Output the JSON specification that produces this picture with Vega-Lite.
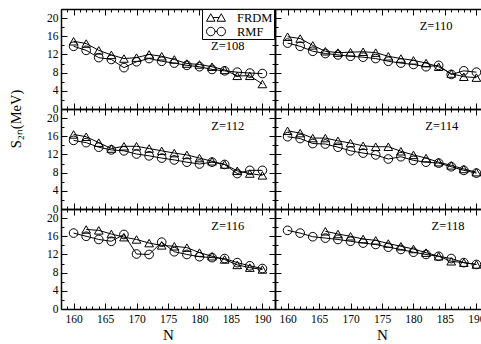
{
"$schema": "https://vega.github.io/schema/vega-lite/v6.json",
"padding": {"left": 8, "top": 3, "right": 0, "bottom": 0},
"background": "white",
"datasets": {
"d": [
{"Z":108,"m":"FRDM","N":160,"S":14.9},{"Z":108,"m":"FRDM","N":162,"S":14.4},{"Z":108,"m":"FRDM","N":164,"S":12.9},{"Z":108,"m":"FRDM","N":166,"S":11.9},{"Z":108,"m":"FRDM","N":168,"S":11.1},{"Z":108,"m":"FRDM","N":170,"S":11.3},{"Z":108,"m":"FRDM","N":172,"S":12.0},{"Z":108,"m":"FRDM","N":174,"S":11.6},{"Z":108,"m":"FRDM","N":176,"S":10.9},{"Z":108,"m":"FRDM","N":178,"S":10.0},{"Z":108,"m":"FRDM","N":180,"S":9.8},{"Z":108,"m":"FRDM","N":182,"S":9.3},{"Z":108,"m":"FRDM","N":184,"S":8.6},{"Z":108,"m":"FRDM","N":186,"S":7.3},{"Z":108,"m":"FRDM","N":188,"S":7.3},{"Z":108,"m":"FRDM","N":190,"S":5.5},
{"Z":108,"m":"RMF","N":160,"S":13.8},{"Z":108,"m":"RMF","N":162,"S":12.9},{"Z":108,"m":"RMF","N":164,"S":11.3},{"Z":108,"m":"RMF","N":166,"S":10.9},{"Z":108,"m":"RMF","N":168,"S":9.1},{"Z":108,"m":"RMF","N":170,"S":10.4},{"Z":108,"m":"RMF","N":172,"S":11.1},{"Z":108,"m":"RMF","N":174,"S":10.5},{"Z":108,"m":"RMF","N":176,"S":10.1},{"Z":108,"m":"RMF","N":178,"S":9.6},{"Z":108,"m":"RMF","N":180,"S":9.3},{"Z":108,"m":"RMF","N":182,"S":8.7},{"Z":108,"m":"RMF","N":184,"S":8.4},{"Z":108,"m":"RMF","N":186,"S":8.1},{"Z":108,"m":"RMF","N":188,"S":7.9},{"Z":108,"m":"RMF","N":190,"S":7.8},
{"Z":110,"m":"FRDM","N":160,"S":15.9},{"Z":110,"m":"FRDM","N":162,"S":15.5},{"Z":110,"m":"FRDM","N":164,"S":14.0},{"Z":110,"m":"FRDM","N":166,"S":12.7},{"Z":110,"m":"FRDM","N":168,"S":12.4},{"Z":110,"m":"FRDM","N":170,"S":12.5},{"Z":110,"m":"FRDM","N":172,"S":12.6},{"Z":110,"m":"FRDM","N":174,"S":12.4},{"Z":110,"m":"FRDM","N":176,"S":11.6},{"Z":110,"m":"FRDM","N":178,"S":11.1},{"Z":110,"m":"FRDM","N":180,"S":10.7},{"Z":110,"m":"FRDM","N":182,"S":10.1},{"Z":110,"m":"FRDM","N":184,"S":9.3},{"Z":110,"m":"FRDM","N":186,"S":7.8},{"Z":110,"m":"FRDM","N":188,"S":7.1},{"Z":110,"m":"FRDM","N":190,"S":6.9},
{"Z":110,"m":"RMF","N":160,"S":14.5},{"Z":110,"m":"RMF","N":162,"S":13.8},{"Z":110,"m":"RMF","N":164,"S":12.7},{"Z":110,"m":"RMF","N":166,"S":12.2},{"Z":110,"m":"RMF","N":168,"S":11.9},{"Z":110,"m":"RMF","N":170,"S":11.6},{"Z":110,"m":"RMF","N":172,"S":11.4},{"Z":110,"m":"RMF","N":174,"S":11.1},{"Z":110,"m":"RMF","N":176,"S":10.5},{"Z":110,"m":"RMF","N":178,"S":10.1},{"Z":110,"m":"RMF","N":180,"S":9.8},{"Z":110,"m":"RMF","N":182,"S":9.3},{"Z":110,"m":"RMF","N":184,"S":9.6},{"Z":110,"m":"RMF","N":186,"S":7.6},{"Z":110,"m":"RMF","N":188,"S":8.4},{"Z":110,"m":"RMF","N":190,"S":8.1},
{"Z":112,"m":"FRDM","N":160,"S":16.4},{"Z":112,"m":"FRDM","N":162,"S":15.9},{"Z":112,"m":"FRDM","N":164,"S":14.6},{"Z":112,"m":"FRDM","N":166,"S":13.3},{"Z":112,"m":"FRDM","N":168,"S":13.8},{"Z":112,"m":"FRDM","N":170,"S":13.8},{"Z":112,"m":"FRDM","N":172,"S":13.3},{"Z":112,"m":"FRDM","N":174,"S":12.8},{"Z":112,"m":"FRDM","N":176,"S":12.3},{"Z":112,"m":"FRDM","N":178,"S":11.9},{"Z":112,"m":"FRDM","N":180,"S":11.2},{"Z":112,"m":"FRDM","N":182,"S":10.5},{"Z":112,"m":"FRDM","N":184,"S":9.8},{"Z":112,"m":"FRDM","N":186,"S":8.4},{"Z":112,"m":"FRDM","N":188,"S":7.8},{"Z":112,"m":"FRDM","N":190,"S":7.4},
{"Z":112,"m":"RMF","N":160,"S":15.1},{"Z":112,"m":"RMF","N":162,"S":14.6},{"Z":112,"m":"RMF","N":164,"S":13.6},{"Z":112,"m":"RMF","N":166,"S":13.0},{"Z":112,"m":"RMF","N":168,"S":12.8},{"Z":112,"m":"RMF","N":170,"S":12.1},{"Z":112,"m":"RMF","N":172,"S":11.7},{"Z":112,"m":"RMF","N":174,"S":11.2},{"Z":112,"m":"RMF","N":176,"S":10.8},{"Z":112,"m":"RMF","N":178,"S":10.3},{"Z":112,"m":"RMF","N":180,"S":9.9},{"Z":112,"m":"RMF","N":182,"S":10.3},{"Z":112,"m":"RMF","N":184,"S":9.8},{"Z":112,"m":"RMF","N":186,"S":7.8},{"Z":112,"m":"RMF","N":188,"S":8.5},{"Z":112,"m":"RMF","N":190,"S":8.5},
{"Z":114,"m":"FRDM","N":160,"S":17.2},{"Z":114,"m":"FRDM","N":162,"S":16.7},{"Z":114,"m":"FRDM","N":164,"S":15.6},{"Z":114,"m":"FRDM","N":166,"S":15.6},{"Z":114,"m":"FRDM","N":168,"S":15.0},{"Z":114,"m":"FRDM","N":170,"S":14.5},{"Z":114,"m":"FRDM","N":172,"S":13.9},{"Z":114,"m":"FRDM","N":174,"S":13.7},{"Z":114,"m":"FRDM","N":176,"S":13.7},{"Z":114,"m":"FRDM","N":178,"S":12.7},{"Z":114,"m":"FRDM","N":180,"S":11.9},{"Z":114,"m":"FRDM","N":182,"S":11.2},{"Z":114,"m":"FRDM","N":184,"S":10.3},{"Z":114,"m":"FRDM","N":186,"S":9.6},{"Z":114,"m":"FRDM","N":188,"S":8.8},{"Z":114,"m":"FRDM","N":190,"S":8.1},
{"Z":114,"m":"RMF","N":160,"S":15.9},{"Z":114,"m":"RMF","N":162,"S":15.5},{"Z":114,"m":"RMF","N":164,"S":14.4},{"Z":114,"m":"RMF","N":166,"S":14.3},{"Z":114,"m":"RMF","N":168,"S":13.6},{"Z":114,"m":"RMF","N":170,"S":12.8},{"Z":114,"m":"RMF","N":172,"S":12.3},{"Z":114,"m":"RMF","N":174,"S":11.9},{"Z":114,"m":"RMF","N":176,"S":11.0},{"Z":114,"m":"RMF","N":178,"S":11.5},{"Z":114,"m":"RMF","N":180,"S":10.7},{"Z":114,"m":"RMF","N":182,"S":10.3},{"Z":114,"m":"RMF","N":184,"S":10.1},{"Z":114,"m":"RMF","N":186,"S":9.3},{"Z":114,"m":"RMF","N":188,"S":8.5},{"Z":114,"m":"RMF","N":190,"S":7.9},
{"Z":116,"m":"FRDM","N":162,"S":17.5},{"Z":116,"m":"FRDM","N":164,"S":17.3},{"Z":116,"m":"FRDM","N":166,"S":16.5},{"Z":116,"m":"FRDM","N":168,"S":15.8},{"Z":116,"m":"FRDM","N":170,"S":15.3},{"Z":116,"m":"FRDM","N":172,"S":14.5},{"Z":116,"m":"FRDM","N":174,"S":14.0},{"Z":116,"m":"FRDM","N":176,"S":13.8},{"Z":116,"m":"FRDM","N":178,"S":13.5},{"Z":116,"m":"FRDM","N":180,"S":12.4},{"Z":116,"m":"FRDM","N":182,"S":11.6},{"Z":116,"m":"FRDM","N":184,"S":10.9},{"Z":116,"m":"FRDM","N":186,"S":9.7},{"Z":116,"m":"FRDM","N":188,"S":9.1},{"Z":116,"m":"FRDM","N":190,"S":8.7},
{"Z":116,"m":"RMF","N":160,"S":16.7},{"Z":116,"m":"RMF","N":162,"S":16.0},{"Z":116,"m":"RMF","N":164,"S":15.3},{"Z":116,"m":"RMF","N":166,"S":14.9},{"Z":116,"m":"RMF","N":168,"S":16.4},{"Z":116,"m":"RMF","N":170,"S":12.1},{"Z":116,"m":"RMF","N":172,"S":12.0},{"Z":116,"m":"RMF","N":174,"S":14.7},{"Z":116,"m":"RMF","N":176,"S":12.6},{"Z":116,"m":"RMF","N":178,"S":12.0},{"Z":116,"m":"RMF","N":180,"S":11.5},{"Z":116,"m":"RMF","N":182,"S":11.3},{"Z":116,"m":"RMF","N":184,"S":11.1},{"Z":116,"m":"RMF","N":186,"S":10.2},{"Z":116,"m":"RMF","N":188,"S":9.5},{"Z":116,"m":"RMF","N":190,"S":8.9},
{"Z":118,"m":"FRDM","N":166,"S":17.1},{"Z":118,"m":"FRDM","N":168,"S":16.5},{"Z":118,"m":"FRDM","N":170,"S":16.0},{"Z":118,"m":"FRDM","N":172,"S":15.4},{"Z":118,"m":"FRDM","N":174,"S":15.1},{"Z":118,"m":"FRDM","N":176,"S":14.4},{"Z":118,"m":"FRDM","N":178,"S":13.8},{"Z":118,"m":"FRDM","N":180,"S":13.2},{"Z":118,"m":"FRDM","N":182,"S":12.4},{"Z":118,"m":"FRDM","N":184,"S":11.6},{"Z":118,"m":"FRDM","N":186,"S":10.5},{"Z":118,"m":"FRDM","N":188,"S":10.2},{"Z":118,"m":"FRDM","N":190,"S":9.8},
{"Z":118,"m":"RMF","N":160,"S":17.3},{"Z":118,"m":"RMF","N":162,"S":16.7},{"Z":118,"m":"RMF","N":164,"S":15.9},{"Z":118,"m":"RMF","N":166,"S":15.6},{"Z":118,"m":"RMF","N":168,"S":15.3},{"Z":118,"m":"RMF","N":170,"S":14.9},{"Z":118,"m":"RMF","N":172,"S":14.5},{"Z":118,"m":"RMF","N":174,"S":14.2},{"Z":118,"m":"RMF","N":176,"S":13.6},{"Z":118,"m":"RMF","N":178,"S":13.1},{"Z":118,"m":"RMF","N":180,"S":12.5},{"Z":118,"m":"RMF","N":182,"S":12.0},{"Z":118,"m":"RMF","N":184,"S":11.6},{"Z":118,"m":"RMF","N":186,"S":11.1},{"Z":118,"m":"RMF","N":188,"S":10.2},{"Z":118,"m":"RMF","N":190,"S":9.8}
]
},
"columns": 2,
"spacing": 0,
"bounds": "flush",
"concat": [
{"width": 214, "height": 100,
 "layer": [
  {"data": {"name": "d"}, "transform": [{"filter": "datum.Z == 108"}],
   "mark": {"type": "line", "color": "black", "strokeWidth": 1},
   "encoding": {
    "x": {"field": "N", "type": "quantitative", "scale": {"domain": [158, 192], "nice": false, "zero": false},
          "axis": {"orient": "bottom", "values": [158,159,160,161,162,163,164,165,166,167,168,169,170,171,172,173,174,175,176,177,178,179,180,181,182,183,184,185,186,187,188,189,190,191,192], "labels": false, "title": null, "tickSize": {"condition": {"test": "datum.value % 5 === 0", "value": -6}, "value": -3}}},
    "y": {"field": "S", "type": "quantitative", "scale": {"domain": [0, 22], "nice": false, "zero": false},
          "axis": {"orient": "left", "values": [0,2,4,6,8,10,12,14,16,18,20,22], "labelExpr": "datum.value % 4 === 0 ? datum.label : ''", "labelPadding": 9, "title": null, "tickSize": {"condition": {"test": "datum.value % 4 === 0", "value": -6}, "value": -3}}},
    "detail": {"field": "m"}}},
  {"data": {"name": "d"}, "transform": [{"filter": "datum.Z == 108"}],
   "mark": {"type": "point", "filled": false, "color": "black", "strokeWidth": 1, "size": 75, "opacity": 1},
   "encoding": {
    "x": {"field": "N", "type": "quantitative", "axis": {"orient": "top", "values": [158,159,160,161,162,163,164,165,166,167,168,169,170,171,172,173,174,175,176,177,178,179,180,181,182,183,184,185,186,187,188,189,190,191,192], "labels": false, "title": null, "tickSize": {"condition": {"test": "datum.value % 5 === 0", "value": -6}, "value": -3}}},
    "y": {"field": "S", "type": "quantitative", "axis": {"orient": "right", "values": [0,2,4,6,8,10,12,14,16,18,20,22], "labels": false, "title": null, "tickSize": {"condition": {"test": "datum.value % 4 === 0", "value": -6}, "value": -3}}},
    "shape": {"condition": {"test": "datum.m === 'FRDM'", "value": "triangle-up"}, "value": "circle"}}},
  {"data": {"name": "d"}, "transform": [{"filter": "datum.Z == 108"}],
   "mark": {"type": "point", "filled": false, "color": "black", "strokeWidth": 1, "size": 75, "opacity": 0},
   "encoding": {
    "x": {"field": "N", "type": "quantitative", "axis": null},
    "y": {"field": "S", "type": "quantitative", "axis": null},
    "shape": {"field": "m", "type": "nominal", "scale": {"domain": ["FRDM", "RMF"], "range": ["M-1,0.536 L-0.393,-0.536 L0.214,0.536 Z M-0.089,0 L0.804,0 M0.5,0.536 L1.107,-0.536 L1.714,0.536 Z", "M0.214,0 A0.607,0.607 0 1,0 -1,0 A0.607,0.607 0 1,0 0.214,0 M0.214,0 L0.5,0 M1.714,0 A0.607,0.607 0 1,0 0.5,0 A0.607,0.607 0 1,0 1.714,0"]},
      "legend": {"title": null, "orient": "none", "legendX": 141, "legendY": 0, "strokeColor": "black", "fillColor": "white", "padding": 1, "symbolOffset": 3, "symbolSize": 196, "symbolOpacity": 1, "symbolStrokeColor": "black", "symbolFillColor": "transparent", "symbolStrokeWidth": 1, "labelFont": "Liberation Serif", "labelFontSize": 12.5, "labelColor": "black", "rowPadding": 0, "labelOffset": 16}}}},
  {"data": {"values": [{"label": "Z=108"}]},
   "mark": {"type": "text", "fontSize": 12.5, "font": "Liberation Serif", "color": "black"},
   "encoding": {"x": {"datum": 184.5, "type": "quantitative", "axis": null}, "y": {"datum": 13.8, "type": "quantitative", "axis": null}, "text": {"field": "label"}}},
  {"data": {"values": [{"label": "S₂ₙ(MeV)"}]},
   "mark": {"type": "text", "fontSize": 14.5, "font": "Liberation Serif", "color": "black", "angle": 270, "align": "center", "baseline": "middle"},
   "encoding": {"x": {"datum": 151, "type": "quantitative", "axis": null}, "y": {"datum": -2.2, "type": "quantitative", "axis": null}, "text": {"field": "label"}}}
 ],
 "resolve": {"axis": {"x": "independent", "y": "independent"}}},
{"width": 214, "height": 100,
 "layer": [
  {"data": {"name": "d"}, "transform": [{"filter": "datum.Z == 110"}],
   "mark": {"type": "line", "color": "black", "strokeWidth": 1},
   "encoding": {
    "x": {"field": "N", "type": "quantitative", "scale": {"domain": [158, 192], "nice": false, "zero": false},
          "axis": {"orient": "bottom", "values": [158,159,160,161,162,163,164,165,166,167,168,169,170,171,172,173,174,175,176,177,178,179,180,181,182,183,184,185,186,187,188,189,190,191,192], "labels": false, "title": null, "tickSize": {"condition": {"test": "datum.value % 5 === 0", "value": -6}, "value": -3}}},
    "y": {"field": "S", "type": "quantitative", "scale": {"domain": [0, 22], "nice": false, "zero": false},
          "axis": {"orient": "left", "values": [0,2,4,6,8,10,12,14,16,18,20,22], "labels": false, "title": null, "tickSize": {"condition": {"test": "datum.value % 4 === 0", "value": -6}, "value": -3}}},
    "detail": {"field": "m"}}},
  {"data": {"name": "d"}, "transform": [{"filter": "datum.Z == 110"}],
   "mark": {"type": "point", "filled": false, "color": "black", "strokeWidth": 1, "size": 75, "opacity": 1},
   "encoding": {
    "x": {"field": "N", "type": "quantitative", "axis": {"orient": "top", "values": [158,159,160,161,162,163,164,165,166,167,168,169,170,171,172,173,174,175,176,177,178,179,180,181,182,183,184,185,186,187,188,189,190,191,192], "labels": false, "title": null, "tickSize": {"condition": {"test": "datum.value % 5 === 0", "value": -6}, "value": -3}}},
    "y": {"field": "S", "type": "quantitative", "axis": {"orient": "right", "values": [0,2,4,6,8,10,12,14,16,18,20,22], "labels": false, "title": null, "tickSize": {"condition": {"test": "datum.value % 4 === 0", "value": -6}, "value": -3}}},
    "shape": {"condition": {"test": "datum.m === 'FRDM'", "value": "triangle-up"}, "value": "circle"}}},
  {"data": {"values": [{"label": "Z=110"}]},
   "mark": {"type": "text", "fontSize": 12.5, "font": "Liberation Serif", "color": "black"},
   "encoding": {"x": {"datum": 183.6, "type": "quantitative", "axis": null}, "y": {"datum": 18.2, "type": "quantitative", "axis": null}, "text": {"field": "label"}}}
 ],
 "resolve": {"axis": {"x": "independent", "y": "independent"}}},
{"width": 214, "height": 100,
 "layer": [
  {"data": {"name": "d"}, "transform": [{"filter": "datum.Z == 112"}],
   "mark": {"type": "line", "color": "black", "strokeWidth": 1},
   "encoding": {
    "x": {"field": "N", "type": "quantitative", "scale": {"domain": [158, 192], "nice": false, "zero": false},
          "axis": {"orient": "bottom", "values": [158,159,160,161,162,163,164,165,166,167,168,169,170,171,172,173,174,175,176,177,178,179,180,181,182,183,184,185,186,187,188,189,190,191,192], "labels": false, "title": null, "tickSize": {"condition": {"test": "datum.value % 5 === 0", "value": -6}, "value": -3}}},
    "y": {"field": "S", "type": "quantitative", "scale": {"domain": [0, 22], "nice": false, "zero": false},
          "axis": {"orient": "left", "values": [0,2,4,6,8,10,12,14,16,18,20,22], "labelExpr": "datum.value % 4 === 0 ? datum.label : ''", "labelPadding": 9, "title": null, "tickSize": {"condition": {"test": "datum.value % 4 === 0", "value": -6}, "value": -3}}},
    "detail": {"field": "m"}}},
  {"data": {"name": "d"}, "transform": [{"filter": "datum.Z == 112"}],
   "mark": {"type": "point", "filled": false, "color": "black", "strokeWidth": 1, "size": 75, "opacity": 1},
   "encoding": {
    "x": {"field": "N", "type": "quantitative", "axis": {"orient": "top", "values": [158,159,160,161,162,163,164,165,166,167,168,169,170,171,172,173,174,175,176,177,178,179,180,181,182,183,184,185,186,187,188,189,190,191,192], "labels": false, "title": null, "tickSize": {"condition": {"test": "datum.value % 5 === 0", "value": -6}, "value": -3}}},
    "y": {"field": "S", "type": "quantitative", "axis": {"orient": "right", "values": [0,2,4,6,8,10,12,14,16,18,20,22], "labels": false, "title": null, "tickSize": {"condition": {"test": "datum.value % 4 === 0", "value": -6}, "value": -3}}},
    "shape": {"condition": {"test": "datum.m === 'FRDM'", "value": "triangle-up"}, "value": "circle"}}},
  {"data": {"values": [{"label": "Z=112"}]},
   "mark": {"type": "text", "fontSize": 12.5, "font": "Liberation Serif", "color": "black"},
   "encoding": {"x": {"datum": 184.5, "type": "quantitative", "axis": null}, "y": {"datum": 18.3, "type": "quantitative", "axis": null}, "text": {"field": "label"}}}
 ],
 "resolve": {"axis": {"x": "independent", "y": "independent"}}},
{"width": 214, "height": 100,
 "layer": [
  {"data": {"name": "d"}, "transform": [{"filter": "datum.Z == 114"}],
   "mark": {"type": "line", "color": "black", "strokeWidth": 1},
   "encoding": {
    "x": {"field": "N", "type": "quantitative", "scale": {"domain": [158, 192], "nice": false, "zero": false},
          "axis": {"orient": "bottom", "values": [158,159,160,161,162,163,164,165,166,167,168,169,170,171,172,173,174,175,176,177,178,179,180,181,182,183,184,185,186,187,188,189,190,191,192], "labels": false, "title": null, "tickSize": {"condition": {"test": "datum.value % 5 === 0", "value": -6}, "value": -3}}},
    "y": {"field": "S", "type": "quantitative", "scale": {"domain": [0, 22], "nice": false, "zero": false},
          "axis": {"orient": "left", "values": [0,2,4,6,8,10,12,14,16,18,20,22], "labels": false, "title": null, "tickSize": {"condition": {"test": "datum.value % 4 === 0", "value": -6}, "value": -3}}},
    "detail": {"field": "m"}}},
  {"data": {"name": "d"}, "transform": [{"filter": "datum.Z == 114"}],
   "mark": {"type": "point", "filled": false, "color": "black", "strokeWidth": 1, "size": 75, "opacity": 1},
   "encoding": {
    "x": {"field": "N", "type": "quantitative", "axis": {"orient": "top", "values": [158,159,160,161,162,163,164,165,166,167,168,169,170,171,172,173,174,175,176,177,178,179,180,181,182,183,184,185,186,187,188,189,190,191,192], "labels": false, "title": null, "tickSize": {"condition": {"test": "datum.value % 5 === 0", "value": -6}, "value": -3}}},
    "y": {"field": "S", "type": "quantitative", "axis": {"orient": "right", "values": [0,2,4,6,8,10,12,14,16,18,20,22], "labels": false, "title": null, "tickSize": {"condition": {"test": "datum.value % 4 === 0", "value": -6}, "value": -3}}},
    "shape": {"condition": {"test": "datum.m === 'FRDM'", "value": "triangle-up"}, "value": "circle"}}},
  {"data": {"values": [{"label": "Z=114"}]},
   "mark": {"type": "text", "fontSize": 12.5, "font": "Liberation Serif", "color": "black"},
   "encoding": {"x": {"datum": 184.5, "type": "quantitative", "axis": null}, "y": {"datum": 18.3, "type": "quantitative", "axis": null}, "text": {"field": "label"}}}
 ],
 "resolve": {"axis": {"x": "independent", "y": "independent"}}},
{"width": 214, "height": 100,
 "layer": [
  {"data": {"name": "d"}, "transform": [{"filter": "datum.Z == 116"}],
   "mark": {"type": "line", "color": "black", "strokeWidth": 1},
   "encoding": {
    "x": {"field": "N", "type": "quantitative", "scale": {"domain": [158, 192], "nice": false, "zero": false},
          "axis": {"orient": "bottom", "values": [158,159,160,161,162,163,164,165,166,167,168,169,170,171,172,173,174,175,176,177,178,179,180,181,182,183,184,185,186,187,188,189,190,191,192], "labelExpr": "datum.value % 5 === 0 ? datum.label : ''", "labelPadding": 10, "title": "N", "titleFontSize": 15, "titlePadding": 0, "tickSize": {"condition": {"test": "datum.value % 5 === 0", "value": -6}, "value": -3}}},
    "y": {"field": "S", "type": "quantitative", "scale": {"domain": [0, 22], "nice": false, "zero": false},
          "axis": {"orient": "left", "values": [0,2,4,6,8,10,12,14,16,18,20,22], "labelExpr": "datum.value % 4 === 0 ? datum.label : ''", "labelPadding": 9, "title": null, "tickSize": {"condition": {"test": "datum.value % 4 === 0", "value": -6}, "value": -3}}},
    "detail": {"field": "m"}}},
  {"data": {"name": "d"}, "transform": [{"filter": "datum.Z == 116"}],
   "mark": {"type": "point", "filled": false, "color": "black", "strokeWidth": 1, "size": 75, "opacity": 1},
   "encoding": {
    "x": {"field": "N", "type": "quantitative", "axis": {"orient": "top", "values": [158,159,160,161,162,163,164,165,166,167,168,169,170,171,172,173,174,175,176,177,178,179,180,181,182,183,184,185,186,187,188,189,190,191,192], "labels": false, "title": null, "tickSize": {"condition": {"test": "datum.value % 5 === 0", "value": -6}, "value": -3}}},
    "y": {"field": "S", "type": "quantitative", "axis": {"orient": "right", "values": [0,2,4,6,8,10,12,14,16,18,20,22], "labels": false, "title": null, "tickSize": {"condition": {"test": "datum.value % 4 === 0", "value": -6}, "value": -3}}},
    "shape": {"condition": {"test": "datum.m === 'FRDM'", "value": "triangle-up"}, "value": "circle"}}},
  {"data": {"values": [{"label": "Z=116"}]},
   "mark": {"type": "text", "fontSize": 12.5, "font": "Liberation Serif", "color": "black"},
   "encoding": {"x": {"datum": 184.5, "type": "quantitative", "axis": null}, "y": {"datum": 18.3, "type": "quantitative", "axis": null}, "text": {"field": "label"}}}
 ],
 "resolve": {"axis": {"x": "independent", "y": "independent"}}},
{"width": 214, "height": 100,
 "layer": [
  {"data": {"name": "d"}, "transform": [{"filter": "datum.Z == 118"}],
   "mark": {"type": "line", "color": "black", "strokeWidth": 1},
   "encoding": {
    "x": {"field": "N", "type": "quantitative", "scale": {"domain": [158, 192], "nice": false, "zero": false},
          "axis": {"orient": "bottom", "values": [158,159,160,161,162,163,164,165,166,167,168,169,170,171,172,173,174,175,176,177,178,179,180,181,182,183,184,185,186,187,188,189,190,191,192], "labelExpr": "datum.value % 5 === 0 ? datum.label : ''", "labelPadding": 10, "title": "N", "titleFontSize": 15, "titlePadding": 0, "tickSize": {"condition": {"test": "datum.value % 5 === 0", "value": -6}, "value": -3}}},
    "y": {"field": "S", "type": "quantitative", "scale": {"domain": [0, 22], "nice": false, "zero": false},
          "axis": {"orient": "left", "values": [0,2,4,6,8,10,12,14,16,18,20,22], "labels": false, "title": null, "tickSize": {"condition": {"test": "datum.value % 4 === 0", "value": -6}, "value": -3}}},
    "detail": {"field": "m"}}},
  {"data": {"name": "d"}, "transform": [{"filter": "datum.Z == 118"}],
   "mark": {"type": "point", "filled": false, "color": "black", "strokeWidth": 1, "size": 75, "opacity": 1},
   "encoding": {
    "x": {"field": "N", "type": "quantitative", "axis": {"orient": "top", "values": [158,159,160,161,162,163,164,165,166,167,168,169,170,171,172,173,174,175,176,177,178,179,180,181,182,183,184,185,186,187,188,189,190,191,192], "labels": false, "title": null, "tickSize": {"condition": {"test": "datum.value % 5 === 0", "value": -6}, "value": -3}}},
    "y": {"field": "S", "type": "quantitative", "axis": {"orient": "right", "values": [0,2,4,6,8,10,12,14,16,18,20,22], "labels": false, "title": null, "tickSize": {"condition": {"test": "datum.value % 4 === 0", "value": -6}, "value": -3}}},
    "shape": {"condition": {"test": "datum.m === 'FRDM'", "value": "triangle-up"}, "value": "circle"}}},
  {"data": {"values": [{"label": "Z=118"}]},
   "mark": {"type": "text", "fontSize": 12.5, "font": "Liberation Serif", "color": "black"},
   "encoding": {"x": {"datum": 185.5, "type": "quantitative", "axis": null}, "y": {"datum": 18.3, "type": "quantitative", "axis": null}, "text": {"field": "label"}}}
 ],
 "resolve": {"axis": {"x": "independent", "y": "independent"}}}
],
"config": {
 "font": "Liberation Serif",
 "view": {"stroke": null},
 "axis": {"domainColor": "black", "domainWidth": 1.5, "tickColor": "black", "tickWidth": 1, "labelColor": "black", "labelFont": "Liberation Serif", "labelFontSize": 11.5, "grid": false, "labelOverlap": false, "labelFlush": false, "titleFont": "Liberation Serif", "titleColor": "black", "titleFontWeight": "normal"}
}
}
